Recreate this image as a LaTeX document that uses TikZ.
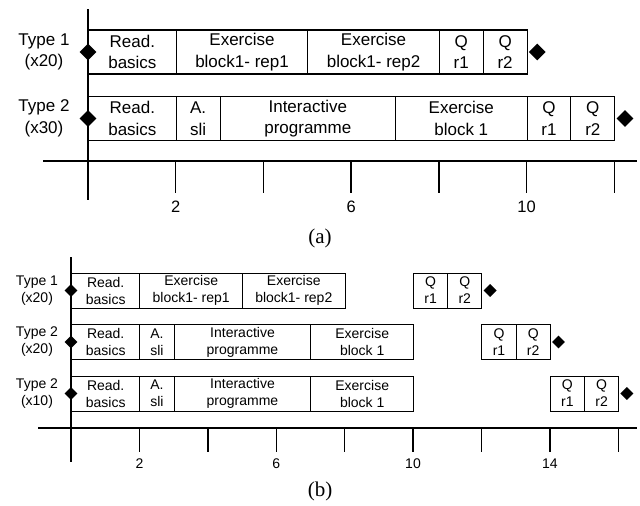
\documentclass[tikz,border=0pt]{standalone}
\usepackage{fontspec}
\setmainfont{Liberation Sans}
\newfontfamily\capfont{Liberation Serif}
\usetikzlibrary{shapes.geometric}

% task box: #1 style, #2 name, #3 origin x, #4 unit, #5 start, #6 end, #7 centre y, #8 text
\newcommand{\taskbox}[8]{%
  \pgfmathsetmacro\bxl{#3+#4*#5}%
  \pgfmathsetmacro\bxw{#4*(#6-#5)}%
  \node[#1, minimum width=\bxw pt, anchor=west] (#2) at (\bxl,#7) {#8};}

\tikzset{
  boxa/.style={draw, line width=1.1pt, inner sep=0pt, minimum height=44pt, align=center,
    font=\fontsize{17}{21.5}\selectfont},
  boxb/.style={draw, line width=1pt, inner sep=0pt, minimum height=35pt, align=center,
    font=\fontsize{14}{17}\selectfont},
  mark a/.style={diamond, fill=black, inner sep=0pt, minimum width=17pt, minimum height=17pt},
  mark b/.style={diamond, fill=black, inner sep=0pt, minimum width=13pt, minimum height=13pt},
  rowlab a/.style={align=center, font=\fontsize{17}{21.5}\selectfont},
  rowlab b/.style={align=center, font=\fontsize{14}{17}\selectfont},
  ticklab a/.style={font=\fontsize{16.5}{20}\selectfont},
  ticklab b/.style={font=\fontsize{14}{17}\selectfont},
  axis/.style={line width=1.4pt},
  caption/.style={font=\capfont\fontsize{21}{24}\selectfont},
}

\begin{document}
\begin{tikzpicture}[x=1pt, y=-1pt]
\useasboundingbox (0,0) rectangle (640,506);

% ---------- panel (a): unit = 43.85, origin x = 88 ----------
\def\oa{88}\def\ua{43.85}
\draw[axis] (\oa,9) -- (\oa,200);
\draw[axis] (43,161) -- (637,161);
\foreach \t in {2,4,...,12}
  \draw[axis] ({\oa+\ua*\t},161) -- ({\oa+\ua*\t},193);
\node[ticklab a] (ta2)  at ({\oa+\ua*2},207)  {2};
\node[ticklab a] (ta6)  at ({\oa+\ua*6},207)  {6};
\node[ticklab a] (ta10) at ({\oa+\ua*10},207) {10};

\node[rowlab a] (la1) at (44,52)    {Type 1\\(x20)};
\node[rowlab a] (la2) at (44,118.5) {Type 2\\(x30)};

\taskbox{boxa}{a1r}{\oa}{\ua}{0}{2}{52}{Read.\\basics}
\taskbox{boxa}{a1e1}{\oa}{\ua}{2}{5}{52}{Exercise\\block1- rep1}
\taskbox{boxa}{a1e2}{\oa}{\ua}{5}{8}{52}{Exercise\\block1- rep2}
\taskbox{boxa}{a1q1}{\oa}{\ua}{8}{9}{52}{Q\\r1}
\taskbox{boxa}{a1q2}{\oa}{\ua}{9}{10}{52}{Q\\r2}
\node[mark a] (a1s) at (\oa,52) {};
\node[mark a, anchor=west] (a1f) at ([xshift=1pt]a1q2.east) {};

\taskbox{boxa}{a2r}{\oa}{\ua}{0}{2}{118.5}{Read.\\basics}
\taskbox{boxa}{a2a}{\oa}{\ua}{2}{3}{118.5}{A.\\sli}
\taskbox{boxa}{a2i}{\oa}{\ua}{3}{7}{118.5}{Interactive\\programme}
\taskbox{boxa}{a2e}{\oa}{\ua}{7}{10}{118.5}{Exercise\\block 1}
\taskbox{boxa}{a2q1}{\oa}{\ua}{10}{11}{118.5}{Q\\r1}
\taskbox{boxa}{a2q2}{\oa}{\ua}{11}{12}{118.5}{Q\\r2}
\node[mark a] (a2s) at (\oa,118.5) {};
\node[mark a, anchor=west] (a2f) at ([xshift=1pt]a2q2.east) {};

\node[caption] (capa) at (320,238) {(a)};

% ---------- panel (b): unit = 34.2, origin x = 71 ----------
\def\ob{71}\def\ub{34.2}
\draw[axis] (\ob,257) -- (\ob,462);
\draw[axis] (38,428) -- (637,428);
\foreach \t in {2,4,...,16}
  \draw[axis] ({\ob+\ub*\t},428) -- ({\ob+\ub*\t},452);
\node[ticklab b] (tb2)  at ({\ob+\ub*2},464)  {2};
\node[ticklab b] (tb6)  at ({\ob+\ub*6},464)  {6};
\node[ticklab b] (tb10) at ({\ob+\ub*10},464) {10};
\node[ticklab b] (tb14) at ({\ob+\ub*14},464) {14};

\node[rowlab b] (lb1) at (37,290.5) {Type 1\\(x20)};
\node[rowlab b] (lb2) at (37,342)   {Type 2\\(x20)};
\node[rowlab b] (lb3) at (37,393.5) {Type 2\\(x10)};

\taskbox{boxb}{b1r}{\ob}{\ub}{0}{2}{290.5}{Read.\\basics}
\taskbox{boxb}{b1e1}{\ob}{\ub}{2}{5}{290.5}{Exercise\\block1- rep1}
\taskbox{boxb}{b1e2}{\ob}{\ub}{5}{8}{290.5}{Exercise\\block1- rep2}
\taskbox{boxb}{b1q1}{\ob}{\ub}{10}{11}{290.5}{Q\\r1}
\taskbox{boxb}{b1q2}{\ob}{\ub}{11}{12}{290.5}{Q\\r2}
\node[mark b] (b1s) at (\ob,290.5) {};
\node[mark b, anchor=west] (b1f) at ([xshift=1pt]b1q2.east) {};

\foreach \r/\y/\qs in {2/342/12, 3/393.5/14} {
  \taskbox{boxb}{b\r r}{\ob}{\ub}{0}{2}{\y}{Read.\\basics}
  \taskbox{boxb}{b\r a}{\ob}{\ub}{2}{3}{\y}{A.\\sli}
  \taskbox{boxb}{b\r i}{\ob}{\ub}{3}{7}{\y}{Interactive\\programme}
  \taskbox{boxb}{b\r e}{\ob}{\ub}{7}{10}{\y}{Exercise\\block 1}
  \pgfmathtruncatemacro\qe{\qs+1}
  \pgfmathtruncatemacro\qf{\qs+2}
  \taskbox{boxb}{b\r q1}{\ob}{\ub}{\qs}{\qe}{\y}{Q\\r1}
  \taskbox{boxb}{b\r q2}{\ob}{\ub}{\qe}{\qf}{\y}{Q\\r2}
  \node[mark b] (b\r s) at (\ob,\y) {};
  \node[mark b, anchor=west] (b\r f) at ([xshift=1pt]b\r q2.east) {};
}

\node[caption] (capb) at (320,491) {(b)};
\end{tikzpicture}
\end{document}
